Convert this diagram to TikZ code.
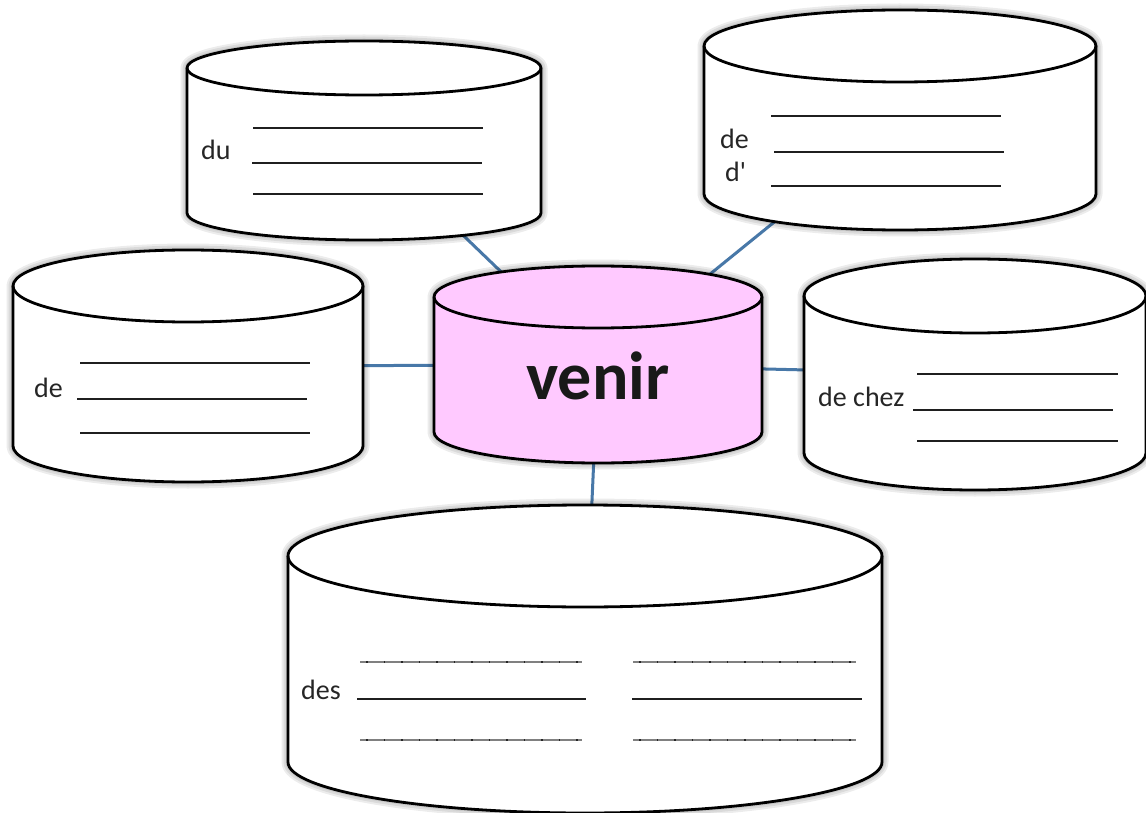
\documentclass[tikz,border=0pt]{standalone}
\usepackage{fontspec}
\setmainfont{Carlito}[Ligatures=TeXOff]
\definecolor{connblue}{RGB}{72,120,168}
\definecolor{venirpink}{RGB}{255,201,255}
\tikzset{
  cylline/.style={draw=black, line width=2.8pt, line join=round},
  halo/.style={draw=black, opacity=0.075, line width=#1, line join=round},
  connector/.style={draw=connblue, line width=3pt},
  writeline/.style={draw=black!88, line width=1.8pt},
  greyline/.style={draw=black!50, line width=2.2pt},
  dotline/.style={draw=black!85, line width=2.2pt, dash pattern=on 1.5pt off 16pt},
  lbl/.style={font=\fontsize{28}{32}\selectfont, text=black!85, inner sep=0pt, anchor=base west},
  bigword/.style={font=\fontsize{68}{74}\selectfont\bfseries, text=black!90, inner sep=0pt, anchor=base},
}
% #1 name, #2 cx, #3 y top centre, #4 y bottom centre, #5 rx, #6 ry, #7 fill
\newcommand\cyl[7]{%
  \foreach \w in {13,9,5}{%
    \path[halo=\w pt] ({#2-#5},#3) -- ({#2-#5},#4)
      arc[start angle=180,end angle=360,x radius=#5pt,y radius=#6pt]
      -- ({#2+#5},#3)
      arc[start angle=0,end angle=180,x radius=#5pt,y radius=#6pt] -- cycle;
  }
  \path[cylline, fill=#7] ({#2-#5},#3) -- ({#2-#5},#4)
      arc[start angle=180,end angle=360,x radius=#5pt,y radius=#6pt]
      -- ({#2+#5},#3)
      arc[start angle=0,end angle=180,x radius=#5pt,y radius=#6pt] -- cycle;
  \draw[cylline] ({#2-#5},#3) arc[start angle=180,end angle=360,x radius=#5pt,y radius=#6pt];
}
\begin{document}
\begin{tikzpicture}[x=1pt,y=-1pt]
  \fill[white] (0,0) rectangle (1146,813);
  \useasboundingbox (0,0) rectangle (1146,813);

  % centres of the cylinders
  \coordinate (venir) at (598,365);
  \coordinate (du) at (364,140);
  \coordinate (ded) at (900,120);
  \coordinate (de) at (188,366);
  \coordinate (dechez) at (975,374);
  \coordinate (des) at (585,659);

  % connectors (hidden behind the filled cylinders)
  \draw[connector] (venir) -- (du);
  \draw[connector] (venir) -- (ded);
  \draw[connector] (venir) -- (de);
  \draw[connector] (venir) -- (dechez);
  \draw[connector] (venir) -- (des);

  % cylinders
  \cyl{du}{364}{68}{213}{177}{27}{white}
  \cyl{ded}{900}{46}{194}{196}{36}{white}
  \cyl{de}{188}{286}{446}{175}{36}{white}
  \cyl{dechez}{975}{296}{453}{171}{37}{white}
  \cyl{venir}{598}{297}{432}{164}{31}{venirpink}
  \cyl{des}{585}{556}{762}{297}{51}{white}

  % venir
  \node[bigword] (tvenir) at (598,399) {venir};

  % du
  \node[lbl] (tdu) at (201,160) {du};
  \draw[writeline] (253,128) -- (483,128);
  \draw[writeline] (252,163) -- (482,163);
  \draw[writeline] (253,194) -- (483,194);

  % de / d'
  \node[lbl] (tde1) at (720,149) {de};
  \node[lbl] (tde2) at (725,182) {d'};
  \draw[writeline] (771,116) -- (1001,116);
  \draw[writeline] (774,152) -- (1004,152);
  \draw[writeline] (771,186) -- (1001,186);

  % de (left)
  \node[lbl] (tde) at (34,397) {de};
  \draw[writeline] (80,363) -- (310,363);
  \draw[writeline] (77,399) -- (307,399);
  \draw[writeline] (80,433) -- (310,433);

  % de chez
  \node[lbl] (tdechez) at (818,406) {de chez};
  \draw[writeline] (917,374) -- (1118,374);
  \draw[writeline] (913,410) -- (1113,410);
  \draw[writeline] (917,441) -- (1118,441);

  % des
  \node[lbl] (tdes) at (301,699) {des};
  \draw[greyline] (360,662) -- (582,662);
  \draw[dotline] (366,662) -- (582,662);
  \draw[writeline] (357,699) -- (586,699);
  \draw[greyline] (360,740) -- (582,740);
  \draw[dotline] (366,740) -- (582,740);
  \draw[greyline] (633,662) -- (856,662);
  \draw[dotline] (639,662) -- (856,662);
  \draw[writeline] (632,699) -- (862,699);
  \draw[greyline] (633,740) -- (856,740);
  \draw[dotline] (639,740) -- (856,740);
\end{tikzpicture}
\end{document}
